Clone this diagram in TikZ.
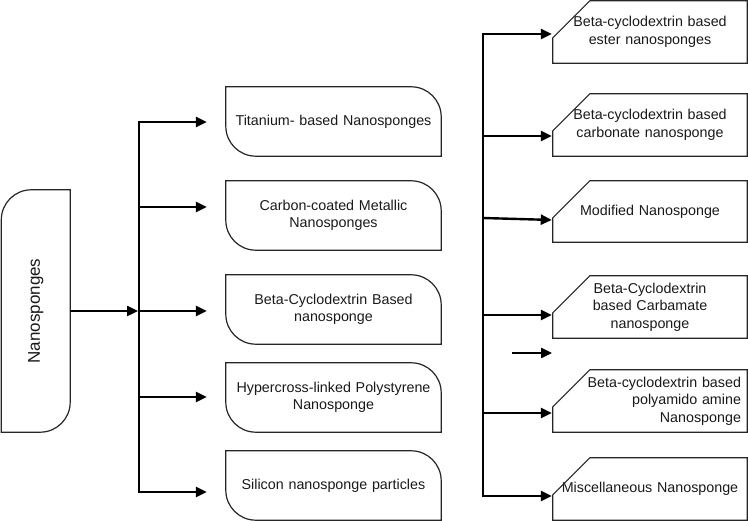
\documentclass[tikz,border=0pt]{standalone}
\usepackage{fontspec}
\usepackage{graphicx}
\setmainfont{Liberation Sans}
\usetikzlibrary{arrows.meta,calc}
\newcommand\mkLbox[1]{\draw[shp] (#1.north west) -- ($(#1.north east)+(-30,0)$) arc[start angle=90,end angle=0,radius=30] -- (#1.south east) -- ($(#1.south west)+(30,0)$) arc[start angle=270,end angle=180,radius=30] -- cycle;}
\newcommand\mkRbox[1]{\draw[shp] ($(#1.north west)+(0,-37)$) -- ($(#1.north west)+(37,0)$) -- (#1.north east) -- (#1.south east) -- (#1.south west) -- cycle;}
\begin{document}
\begin{tikzpicture}[x=1pt,y=1pt,
  txt/.style={font=\fontsize{14.3}{17.5}\selectfont, text=black!90, inner sep=0pt, align=center},
  lbox/.style={txt, minimum width=215pt, minimum height=69pt, text width=205pt},
  rbox/.style={txt, minimum width=194pt, minimum height=62pt, text width=182pt},
  shp/.style={draw=black!85, line width=1.2pt},
  arr/.style={line width=2.4pt, -{Triangle[length=11pt,width=10pt]}},
  ln/.style={line width=2.4pt}
]
\useasboundingbox (0,0) rectangle (748,-521);

% main box
\node[txt, minimum width=68.5pt, minimum height=242pt] (n) at (35.75,-311)
  {\fontsize{17}{20}\selectfont\rotatebox{90}{Nanosponges}};
\draw[shp] ($(n.north west)+(0,-30)$) arc[start angle=180,end angle=90,radius=30] -- (n.north east) -- ($(n.south east)+(0,30)$) arc[start angle=0,end angle=-90,radius=30] -- (n.south west) -- cycle;

% left column boxes
\node[lbox] (l1) at (333.5,-121.5) {Titanium- based Nanosponges};
\node[lbox] (l2) at (333.5,-215.5) {Carbon-coated Metallic\\Nanosponges};
\node[lbox] (l3) at (333.5,-309.5) {Beta-Cyclodextrin Based\\nanosponge};
\node[lbox] (l4) at (333.5,-397.5) {Hypercross-linked Polystyrene\\Nanosponge};
\node[lbox] (l5) at (333.5,-485.5) {Silicon nanosponge particles};
\mkLbox{l1}\mkLbox{l2}\mkLbox{l3}\mkLbox{l4}\mkLbox{l5}

% right column boxes
\node[rbox] (r1) at (650,-32) {Beta-cyclodextrin based\\ester nanosponges};
\node[rbox] (r2) at (650,-125) {Beta-cyclodextrin based\\carbonate nanosponge};
\node[rbox, minimum height=61pt] (r3) at (650,-211.5) {Modified Nanosponge};
\node[rbox] (r4) at (650,-307) {Beta-Cyclodextrin\\based Carbamate\\nanosponge};
\node[rbox, align=right] (r5) at (650,-401) {Beta-cyclodextrin based\\polyamido amine\\Nanosponge};
\node[rbox] (r6) at (650,-489) {Miscellaneous Nanosponge};
\mkRbox{r1}\mkRbox{r2}\mkRbox{r3}\mkRbox{r4}\mkRbox{r5}\mkRbox{r6}

% left connectors
\coordinate (lb1) at (139,-122);
\coordinate (lb2) at (139,-207);
\coordinate (lb3) at (139,-311);
\coordinate (lb4) at (139,-397);
\coordinate (lb5) at (139,-492);
\draw[ln, line cap=rect] (lb1) -- (lb5);
\draw[arr, shorten >=1pt] (n.east |- lb3) -- (lb3);
\foreach \i in {1,...,5}{
  \draw[arr, shorten >=19pt] (lb\i) -- (lb\i -| l\i.west);
}

% right connectors
\coordinate (rb1) at (483,-34);
\coordinate (rb2) at (483,-136);
\coordinate (rb3) at (483,-218);
\coordinate (rb4) at (483,-315);
\coordinate (rb5) at (483,-413);
\coordinate (rb6) at (483,-496);
\draw[ln, line cap=rect] (rb1) -- (rb6);
\foreach \i in {1,2,4,5,6}{
  \draw[arr, shorten >=1pt] (rb\i) -- (rb\i -| r\i.west);
}
\draw[arr, shorten >=1pt] (rb3) -- ($(rb3 -| r3.west)+(0,-2)$);

% stray arrow
\coordinate (sa) at (512,-353);
\coordinate (sb) at (552,-353);
\draw[arr] (sa) -- (sb);
\end{tikzpicture}
\end{document}
